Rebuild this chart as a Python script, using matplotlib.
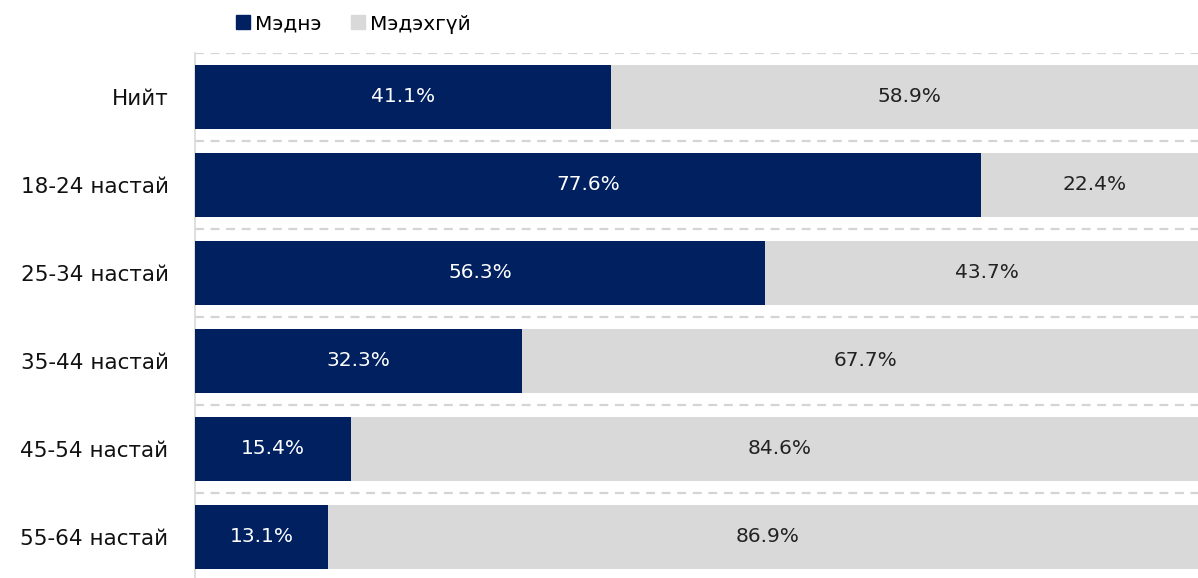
import matplotlib.pyplot as plt
import matplotlib.lines as mlines

# ── Data ──────────────────────────────────────────────────────────────────────
categories = ["Нийт", "18-24 настай", "25-34 настай", "35-44 настай",
              "45-54 настай", "55-64 настай"]
know = [41.1, 77.6, 56.3, 32.3, 15.4, 13.1]
dont_know = [58.9, 22.4, 43.7, 67.7, 84.6, 86.9]
series_names = ["Мэднэ", "Мэдэхгүй"]

NAVY = '#002060'
GREY = '#D9D9D9'

plt.rcParams['font.family'] = ['DejaVu Sans']

fig = plt.figure(figsize=(11.98, 5.78), dpi=100)
# axes spans y=53px..581px, x=195px..1208px (slightly past the right edge)
ax = fig.add_axes([195 / 1198, 1 - 581 / 578, 1013 / 1198, 528 / 578])

ys = list(range(len(categories)))
h = 0.73
ax.barh(ys, know, height=h, color=NAVY, zorder=3)
ax.barh(ys, dont_know, left=know, height=h, color=GREY, zorder=3)

for y, a, b in zip(ys, know, dont_know):
    ax.text(a / 2, y, f"{a:.1f}%", ha='center', va='center',
            color='white', fontsize=14.5, zorder=4)
    ax.text(a + b / 2, y, f"{b:.1f}%", ha='center', va='center',
            color='#222222', fontsize=14.5, zorder=4)

ax.set_xlim(0, 100)
ax.set_ylim(len(categories) - 0.5, -0.5)
ax.set_yticks(ys)
ax.set_yticklabels(categories, fontsize=15.5, color='#111111')
ax.tick_params(axis='y', length=0, pad=19)
ax.set_xticks([])

# dashed separators between categories
ax.set_yticks([y - 0.5 for y in ys] + [len(ys) - 0.5], minor=True)
ax.tick_params(axis='y', which='minor', length=0)
ax.grid(True, axis='y', which='minor', color='#D4D4D4', ls=(0, (4, 3)), lw=1.6)
ax.grid(False, axis='y', which='major')

for s in ['top', 'right', 'bottom']:
    ax.spines[s].set_visible(False)
ax.spines['left'].set_color('#D9D9D9')
ax.spines['left'].set_linewidth(1.2)

handles = [
    mlines.Line2D([0], [0], color=NAVY, marker='s', ms=10, ls='none', label=series_names[0]),
    mlines.Line2D([0], [0], color=GREY, marker='s', ms=10, ls='none', label=series_names[1]),
]
fig.legend(handles=handles, loc='center left', bbox_to_anchor=(236 / 1198, 1 - 24 / 578),
           ncol=2, frameon=False, fontsize=14.5, handlelength=0.7,
           handletextpad=0.25, columnspacing=1.45, borderaxespad=0, borderpad=0)

fig.savefig("out.png", dpi=100)
